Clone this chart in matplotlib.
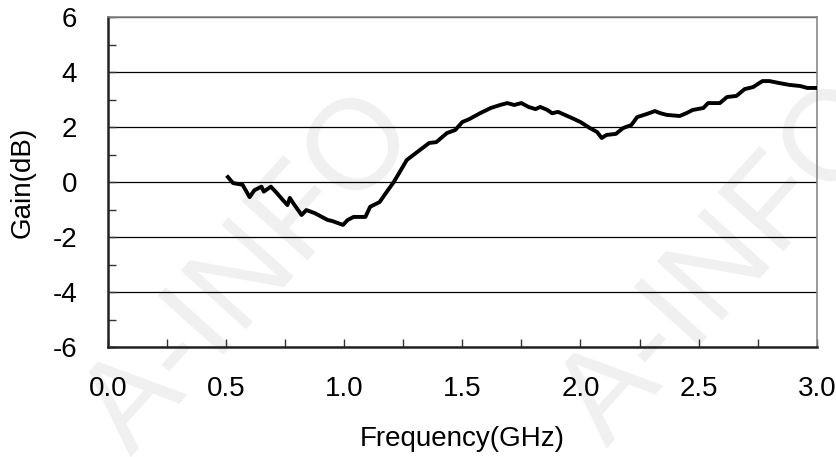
import matplotlib
matplotlib.use("Agg")
from matplotlib import pyplot as plt
import numpy as np

plt.rcParams['font.family'] = ['Liberation Sans', 'DejaVu Sans']
plt.rcParams['axes.unicode_minus'] = False

freq_ghz = [0.508, 0.53, 0.57, 0.60, 0.62, 0.65, 0.66, 0.69, 0.715, 0.74,
            0.76, 0.77, 0.79, 0.82, 0.84, 0.875, 0.93, 0.95, 0.995, 1.015,
            1.04, 1.09, 1.11, 1.15, 1.18, 1.21, 1.235, 1.265, 1.32, 1.36,
            1.39, 1.435, 1.47, 1.50, 1.53, 1.575, 1.62, 1.66, 1.69, 1.72,
            1.75, 1.78, 1.81, 1.83, 1.86, 1.88, 1.905, 1.955, 2.0, 2.04,
            2.07, 2.09, 2.11, 2.15, 2.18, 2.215, 2.24, 2.28, 2.315, 2.335,
            2.365, 2.42, 2.45, 2.475, 2.52, 2.54, 2.59, 2.62, 2.66, 2.695,
            2.73, 2.77, 2.80, 2.84, 2.885, 2.93, 2.96, 3.0]
gain_db = [0.18, -0.04, -0.1, -0.55, -0.3, -0.17, -0.35, -0.17, -0.4, -0.65,
           -0.84, -0.58, -0.84, -1.2, -1.02, -1.13, -1.38, -1.42, -1.56, -1.38,
           -1.27, -1.27, -0.9, -0.73, -0.36, 0.0, 0.36, 0.8, 1.16, 1.42,
           1.45, 1.78, 1.89, 2.18, 2.29, 2.5, 2.69, 2.8, 2.87, 2.8,
           2.87, 2.73, 2.65, 2.73, 2.62, 2.5, 2.55, 2.36, 2.18, 1.96,
           1.82, 1.6, 1.71, 1.75, 1.96, 2.07, 2.36, 2.47, 2.58, 2.51,
           2.44, 2.4, 2.51, 2.62, 2.69, 2.87, 2.87, 3.09, 3.13, 3.38,
           3.45, 3.67, 3.67, 3.6, 3.53, 3.49, 3.42, 3.42]

x_ticks = [0.0, 0.5, 1.0, 1.5, 2.0, 2.5, 3.0]
y_ticks = [-6, -4, -2, 0, 2, 4, 6]

fig = plt.figure(figsize=(8.36, 4.57), dpi=100)
ax = fig.add_axes([0.129, 0.2407, 0.848, 0.7221])
ax.patch.set_alpha(0)

# faint watermark behind everything
for wx, wy in [(0.30, 0.40), (0.87, 0.42)]:
    fig.text(wx, wy, 'A-INFO', fontsize=92, color='#f0f0f0', rotation=48,
             ha='center', va='center', zorder=-5)

ax.plot(freq_ghz, gain_db, color='black', lw=2.8, zorder=3)

ax.set_xlim(0, 3)
ax.set_ylim(-6, 6)
ax.set_xticks(x_ticks)
ax.set_xticklabels([f'{v:.1f}' for v in x_ticks])
ax.set_yticks(y_ticks)
ax.set_xticks(np.arange(0, 3.01, 0.25), minor=True)
ax.set_yticks(np.arange(-6, 6.1, 1), minor=True)
ax.grid(axis='y', which='major', color='black', lw=0.9)

ax.tick_params(which='both', direction='in', length=6, width=1, color='#333333',
               labelsize=20, top=False, right=False)
ax.tick_params(axis='y', pad=22)
ax.tick_params(axis='x', pad=21)

for side in ['left', 'bottom']:
    ax.spines[side].set_linewidth(1.8)
    ax.spines[side].set_color('#222222')
for side in ['top', 'right']:
    ax.spines[side].set_linewidth(1.2)
    ax.spines[side].set_color('#888888')

ax.set_xlabel('Frequency(GHz)', fontsize=20, labelpad=17)
ax.set_ylabel('Gain(dB)', fontsize=20, labelpad=12)

fig.savefig('out.png', dpi=100)
